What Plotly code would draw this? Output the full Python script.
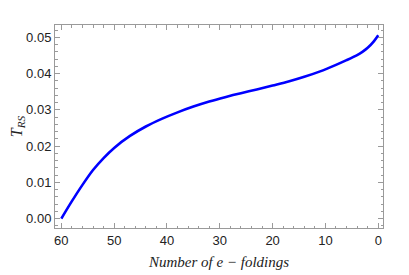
import plotly.graph_objects as go

# number of e-foldings remaining and T_RS
n_efolds = [60, 58, 56, 54, 52, 50, 47, 44, 41, 38, 35, 32, 29, 26, 23,
            20, 17, 14, 11, 8, 6, 4, 3, 2, 1, 0]
t_rs = [0.0, 0.0048, 0.0093, 0.0134, 0.0167, 0.0195, 0.0228, 0.0254,
        0.0275, 0.0293, 0.0309, 0.0323, 0.0335, 0.0346, 0.0356, 0.0367,
        0.0378, 0.0391, 0.0406, 0.0424, 0.0437, 0.0451, 0.0460, 0.0471,
        0.0486, 0.0506]

x_ticks = [60, 50, 40, 30, 20, 10, 0]
y_ticks = [0.0, 0.01, 0.02, 0.03, 0.04, 0.05]

frame = '#9a9a9a'
text = '#222222'

fig = go.Figure()
fig.add_trace(go.Scatter(
    x=n_efolds, y=t_rs, mode='lines',
    line=dict(color='#0000ff', width=2.6, shape='spline', smoothing=0.8),
    hoverinfo='skip'
))

axis_common = dict(
    showline=True, linecolor=frame, linewidth=1, mirror='ticks',
    ticks='inside', ticklen=5, tickcolor=frame, showgrid=False, zeroline=False,
    automargin=False,
    tickfont=dict(family='Liberation Sans, Arial', size=13, color=text),
)

# the page body adds an 8px offset, so margins are trimmed to compensate
fig.update_layout(
    width=409, height=275,
    margin=dict(l=47, r=34, t=17, b=55),
    paper_bgcolor='white', plot_bgcolor='white',
    showlegend=False,
    xaxis=dict(
        range=[61.2, -0.9], tickvals=x_ticks, ticktext=[str(v) for v in x_ticks],
        minor=dict(ticks='inside', dtick=2, ticklen=2.5, tickcolor=frame, tick0=0),
        title=dict(text='<i>Number of e \u2212 foldings</i>', standoff=9,
                   font=dict(family='Liberation Serif, Times New Roman', size=15, color=text)),
        **axis_common
    ),
    yaxis=dict(
        range=[-0.0026, 0.0534], tickvals=y_ticks, ticktext=['%.2f' % v for v in y_ticks],
        minor=dict(ticks='inside', dtick=0.002, ticklen=2.5, tickcolor=frame, tick0=0),
        title=dict(text='<i>T</i><sub><i>RS</i></sub>', standoff=4,
                   font=dict(family='Liberation Serif, Times New Roman', size=16, color=text)),
        **axis_common
    ),
)

fig.write_html('out.html')
